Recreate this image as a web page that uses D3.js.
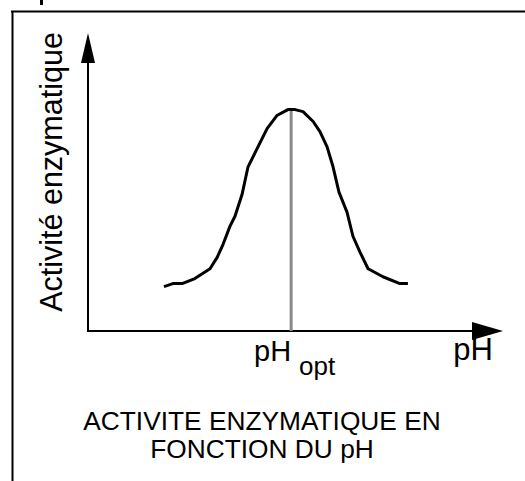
<!DOCTYPE html>
<html>
<head>
<meta charset="utf-8">
<script src="https://cdn.jsdelivr.net/npm/d3@7"></script>
<style>
  html, body { margin: 0; padding: 0; background: #fff; }
  svg { display: block; font-family: "Liberation Sans", Arial, sans-serif; }
</style>
</head>
<body>
<svg id="chart" width="525" height="481"></svg>
<script>
// MARK: Data (pH on x, relative enzymatic activity on y).

const phValues       = [2.59, 2.89, 3.20, 3.63, 4.14, 4.38, 4.58, 4.81, 4.98, 5.22, 5.42, 5.72, 6.06, 6.39,
                        6.76, 7.00, 7.27, 7.61, 7.84, 8.08, 8.28, 8.48, 8.75, 8.95, 9.19, 9.46, 9.96, 10.53, 10.80]
const activityValues = [14.9, 15.9, 15.9, 17.6, 20.9, 24.7, 29.1, 35.1, 38.5, 45.9, 55.1, 61.1, 67.9, 72.3,
                        74.3, 74.3, 73.6, 70.3, 66.9, 61.8, 55.1, 46.6, 39.9, 31.8, 26.4, 20.9, 18.2, 15.9, 15.9]
const phOpt          = [6.87]
const phDomain       = [0, 14]
const activityDomain = [0, 100]

const yAxisLabel   = 'Activité enzymatique'
const xAxisLabel   = 'pH'
const optLabel     = ['pH', 'opt']
const captionLines = ['ACTIVITE ENZYMATIQUE EN', 'FONCTION DU pH']

// MARK: Scales.

const svg = d3.select('#chart')

const x = d3.scaleLinear().domain(phDomain).range([87, 503])
const y = d3.scaleLinear().domain(activityDomain).range([331, 33])

// MARK: Frame (only top and left edges are visible).

svg.append('line')
  .attr('x1', 11).attr('y1', 11.5).attr('x2', 525).attr('y2', 11.5)
  .attr('stroke', '#000').attr('stroke-width', 2)
svg.append('line')
  .attr('x1', 12.5).attr('y1', 11).attr('x2', 12.5).attr('y2', 481)
  .attr('stroke', '#000').attr('stroke-width', 2)
svg.append('rect')
  .attr('x', 40).attr('y', 0).attr('width', 3).attr('height', 5).attr('fill', '#000')

// MARK: Axes with arrow heads.

const x0   = x(phDomain[0])
const y0   = y(activityDomain[0])
const xEnd = x(phDomain[1])
const yEnd = y(activityDomain[1])

svg.append('line')
  .attr('x1', x0 + 1).attr('y1', y0).attr('x2', x0 + 1).attr('y2', yEnd + 20)
  .attr('stroke', '#000').attr('stroke-width', 2)
svg.append('line')
  .attr('x1', x0).attr('y1', y0).attr('x2', xEnd - 20).attr('y2', y0)
  .attr('stroke', '#000').attr('stroke-width', 2)

svg.append('path')
  .attr('d', `M${x0 + 1},${yEnd} L${x0 + 8},${yEnd + 30} L${x0 - 6},${yEnd + 30} Z`)
  .attr('fill', '#000')
svg.append('path')
  .attr('d', `M${xEnd},${y0} L${xEnd - 31},${y0 - 9} L${xEnd - 31},${y0 + 9} Z`)
  .attr('fill', '#000')

// MARK: Optimum marker.

svg.append('line')
  .attr('x1', x(phOpt[0])).attr('x2', x(phOpt[0]))
  .attr('y1', y(d3.max(activityValues))).attr('y2', y0)
  .attr('stroke', '#8a8a8a').attr('stroke-width', 3)

// MARK: Curve.

const points = phValues.map((ph, i) => [ph, activityValues[i]])
svg.append('path')
  .datum(points)
  .attr('d', d3.line().x((d) => x(d[0])).y((d) => y(d[1])).curve(d3.curveLinear))
  .attr('fill', 'none')
  .attr('stroke', '#000')
  .attr('stroke-width', 3)
  .attr('stroke-linejoin', 'round')

// MARK: Labels.

svg.append('text')
  .attr('transform', `translate(62, 172) rotate(-90)`)
  .attr('text-anchor', 'middle')
  .attr('font-size', 30.5)
  .text(yAxisLabel)

svg.append('text')
  .attr('x', 493).attr('y', 360)
  .attr('text-anchor', 'end')
  .attr('font-size', 31)
  .text(xAxisLabel)

const opt = svg.append('text')
  .attr('x', 254).attr('y', 361)
  .attr('font-size', 29)
opt.append('tspan').text(optLabel[0])
opt.append('tspan').attr('dx', 8).attr('dy', 14).attr('font-size', 26).text(optLabel[1])

svg.selectAll('text.caption')
  .data(captionLines).enter()
  .append('text')
  .attr('class', 'caption')
  .attr('x', 262)
  .attr('y', (d, i) => 430 + i * 28)
  .attr('text-anchor', 'middle')
  .attr('font-size', 26.3)
  .text((d) => d)
</script>
</body>
</html>
